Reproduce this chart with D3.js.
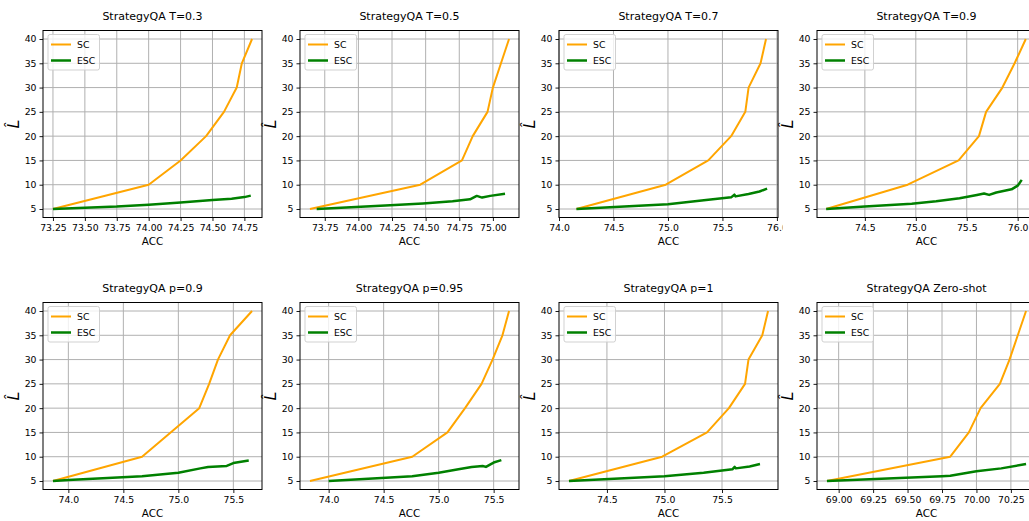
<!DOCTYPE html>
<html>
<head>
<meta charset="utf-8">
<script src="https://cdn.jsdelivr.net/npm/d3@7"></script>
<style>
  html, body { margin: 0; padding: 0; background: #fff; }
  svg { display: block; font-family: "DejaVu Sans", sans-serif; }
</style>
</head>
<body>
<svg id="chart" width="1029" height="521"></svg>
<script>
// ---------------- data ----------------
const titles = ["StrategyQA T=0.3", "StrategyQA T=0.5", "StrategyQA T=0.7", "StrategyQA T=0.9",
                "StrategyQA p=0.9", "StrategyQA p=0.95", "StrategyQA p=1", "StrategyQA Zero-shot"];
const seriesNames = ["SC", "ESC"];
const scL = [5, 10, 15, 20, 25, 30, 35, 40];

const scAcc_T03 = [73.25, 74.00, 74.25, 74.45, 74.59, 74.69, 74.73, 74.81];
const scAcc_T05 = [73.64, 74.46, 74.77, 74.85, 74.96, 75.00, 75.06, 75.12];
const scAcc_T07 = [74.16, 74.98, 75.37, 75.58, 75.71, 75.74, 75.85, 75.90];
const scAcc_T09 = [74.12, 74.92, 75.42, 75.62, 75.69, 75.85, 75.97, 76.08];
const scAcc_p09 = [73.86, 74.67, 74.93, 75.19, 75.28, 75.36, 75.47, 75.67];
const scAcc_p095 = [73.83, 74.76, 75.08, 75.24, 75.39, 75.49, 75.58, 75.64];
const scAcc_p1 = [74.17, 74.98, 75.37, 75.56, 75.70, 75.73, 75.85, 75.90];
const scAcc_zero = [68.915, 69.81, 69.945, 70.03, 70.17, 70.24, 70.30, 70.36];

const escAcc_T03 = [73.25, 73.75, 74.00, 74.25, 74.50, 74.65, 74.75, 74.80];
const escL_T03   = [5.0, 5.5, 5.9, 6.35, 6.85, 7.1, 7.45, 7.75];
const escAcc_T05 = [73.69, 74.20, 74.48, 74.70, 74.83, 74.88, 74.92, 74.98, 75.09];
const escL_T05   = [5.0, 5.7, 6.15, 6.6, 7.0, 7.7, 7.35, 7.7, 8.15];
const escAcc_T07 = [74.16, 74.60, 75.00, 75.35, 75.58, 75.61, 75.62, 75.74, 75.84, 75.91];
const escL_T07   = [5.0, 5.5, 6.0, 6.85, 7.4, 7.95, 7.6, 8.1, 8.6, 9.2];
const escAcc_T09 = [74.12, 74.50, 74.96, 75.20, 75.43, 75.60, 75.67, 75.72, 75.79, 75.94, 76.00, 76.04];
const escL_T09   = [5.0, 5.5, 6.1, 6.6, 7.2, 7.9, 8.2, 7.9, 8.4, 9.05, 9.8, 11.0];
const escAcc_p09 = [73.86, 74.00, 74.67, 75.00, 75.20, 75.27, 75.44, 75.50, 75.64];
const escL_p09   = [5.0, 5.2, 6.0, 6.7, 7.6, 7.9, 8.1, 8.7, 9.2];
const escAcc_p095 = [74.00, 74.76, 75.00, 75.18, 75.30, 75.40, 75.43, 75.50, 75.57];
const escL_p095   = [5.0, 6.0, 6.7, 7.4, 7.9, 8.1, 7.9, 8.8, 9.3];
const escAcc_p1 = [74.17, 75.00, 75.34, 75.59, 75.61, 75.62, 75.74, 75.83];
const escL_p1   = [5.0, 6.0, 6.7, 7.4, 7.9, 7.6, 8.0, 8.5];
const escAcc_zero = [68.915, 69.75, 69.81, 70.00, 70.18, 70.36];
const escL_zero   = [5.0, 6.0, 6.1, 7.0, 7.6, 8.5];

// x-axis ticks per panel
const xTicks_T03 = [73.25, 73.50, 73.75, 74.00, 74.25, 74.50, 74.75];
const xTicks_T05 = [73.75, 74.00, 74.25, 74.50, 74.75, 75.00];
const xTicks_T07 = [74.0, 74.5, 75.0, 75.5, 76.0];
const xTicks_T09 = [74.5, 75.0, 75.5, 76.0];
const xTicks_p09 = [74.0, 74.5, 75.0, 75.5];
const xTicks_p095 = [74.0, 74.5, 75.0, 75.5];
const xTicks_p1 = [74.5, 75.0, 75.5];
const xTicks_zero = [69.00, 69.25, 69.50, 69.75, 70.00, 70.25];
const xTickDecimals = [2, 2, 1, 1, 1, 1, 1, 2];
const yTicks = [5, 10, 15, 20, 25, 30, 35, 40];
// explicit x-limits where the panel does not use automatic 5% margins
const xLimits = [null, null, [74.0, 76.01], [74.03, 76.18], null, null, null, null];

const panels = [
  {sc: scAcc_T03, escX: escAcc_T03, escY: escL_T03, ticks: xTicks_T03},
  {sc: scAcc_T05, escX: escAcc_T05, escY: escL_T05, ticks: xTicks_T05},
  {sc: scAcc_T07, escX: escAcc_T07, escY: escL_T07, ticks: xTicks_T07},
  {sc: scAcc_T09, escX: escAcc_T09, escY: escL_T09, ticks: xTicks_T09},
  {sc: scAcc_p09, escX: escAcc_p09, escY: escL_p09, ticks: xTicks_p09},
  {sc: scAcc_p095, escX: escAcc_p095, escY: escL_p095, ticks: xTicks_p095},
  {sc: scAcc_p1, escX: escAcc_p1, escY: escL_p1, ticks: xTicks_p1},
  {sc: scAcc_zero, escX: escAcc_zero, escY: escL_zero, ticks: xTicks_zero}
];

// ---------------- layout / style ----------------
const PW = 219, PH = 187;
const lefts = [43, 300, 559, 817];
const tops = [30.5, 302.5];
const colors = {SC: "#FFA500", ESC: "#008000"};
const widths = {SC: 2, ESC: 2.5};

const svg = d3.select("#chart");
const defs = svg.append("defs");

function padded(ext) {
  const r = ext[1] - ext[0];
  return [ext[0] - 0.05 * r, ext[1] + 0.05 * r];
}

panels.forEach((p, i) => {
  const col = i % 4, row = Math.floor(i / 4);
  const x0 = lefts[col], y0 = tops[row];

  const allX = p.sc.concat(p.escX);
  const xDom = xLimits[i] || padded(d3.extent(allX));
  const allY = scL.concat(p.escY);
  const yDom = padded(d3.extent(allY));

  const x = d3.scaleLinear().domain(xDom).range([0, PW]);
  const y = d3.scaleLinear().domain(yDom).range([PH, 0]);

  const outerId = "outer" + i;
  defs.append("clipPath").attr("id", outerId)
    .append("rect").attr("x", -60).attr("y", -40).attr("width", PW + 60 + 4.5).attr("height", PH + 90);
  const clipId = "clip" + i;
  defs.append("clipPath").attr("id", clipId)
    .append("rect").attr("x", 0).attr("y", 0).attr("width", PW).attr("height", PH);

  const g = svg.append("g").attr("transform", `translate(${x0},${y0})`)
    .attr("clip-path", `url(#${outerId})`);

  // grid
  const grid = g.append("g");
  grid.selectAll("line.gx").data(p.ticks).enter().append("line")
    .attr("x1", d => x(d)).attr("x2", d => x(d)).attr("y1", 0).attr("y2", PH)
    .attr("stroke", "#b0b0b0").attr("stroke-width", 1);
  grid.selectAll("line.gy").data(yTicks).enter().append("line")
    .attr("y1", d => y(d)).attr("y2", d => y(d)).attr("x1", 0).attr("x2", PW)
    .attr("stroke", "#b0b0b0").attr("stroke-width", 1);

  // axes
  const fmt = d3.format("." + xTickDecimals[i] + "f");
  const xAxis = d3.axisBottom(x).tickValues(p.ticks).tickFormat(fmt).tickSizeInner(3.5).tickSizeOuter(0).tickPadding(3);
  const yAxis = d3.axisLeft(y).tickValues(yTicks).tickFormat(d3.format("d")).tickSizeInner(3.5).tickSizeOuter(0).tickPadding(3);
  const gx = g.append("g").attr("transform", `translate(0,${PH})`).call(xAxis);
  const gy = g.append("g").call(yAxis);
  [gx, gy].forEach(a => {
    a.select(".domain").remove();
    a.selectAll("text").attr("font-family", "DejaVu Sans").attr("font-size", 9.3).attr("fill", "#000");
    a.selectAll("line").attr("stroke", "#000").attr("stroke-width", 0.9);
  });

  // lines
  const plot = g.append("g").attr("clip-path", `url(#${clipId})`);
  const line = d3.line().x(d => x(d[0])).y(d => y(d[1]));
  const scData = p.sc.map((v, k) => [v, scL[k]]);
  const escData = p.escX.map((v, k) => [v, p.escY[k]]);
  plot.append("path").datum(scData).attr("d", line)
    .attr("fill", "none").attr("stroke", colors.SC).attr("stroke-width", widths.SC)
    .attr("stroke-linejoin", "round").attr("stroke-linecap", "butt");
  plot.append("path").datum(escData).attr("d", line)
    .attr("fill", "none").attr("stroke", colors.ESC).attr("stroke-width", widths.ESC)
    .attr("stroke-linejoin", "round").attr("stroke-linecap", "butt");

  // frame
  g.append("rect").attr("x", 0).attr("y", 0).attr("width", PW).attr("height", PH)
    .attr("fill", "none").attr("stroke", "#000").attr("stroke-width", 1);

  // legend
  const lg = g.append("g").attr("transform", "translate(5,4)");
  lg.append("rect").attr("x", 0).attr("y", 0).attr("width", 51.5).attr("height", 35.5)
    .attr("rx", 2).attr("fill", "#fff").attr("fill-opacity", 0.8)
    .attr("stroke", "#cccccc").attr("stroke-width", 0.9);
  seriesNames.forEach((s, k) => {
    const yy = 10 + k * 16;
    lg.append("line").attr("x1", 3).attr("x2", 23).attr("y1", yy).attr("y2", yy)
      .attr("stroke", colors[s]).attr("stroke-width", widths[s]);
    lg.append("text").attr("x", 29).attr("y", yy).attr("dy", "0.35em")
      .attr("font-size", 9.3).attr("fill", "#000").text(s);
  });

  // title
  g.append("text").attr("x", PW / 2).attr("y", -10.5).attr("text-anchor", "middle")
    .attr("font-size", 11).attr("fill", "#000").text(titles[i]);

  // x label
  g.append("text").attr("x", PW / 2).attr("y", PH + 27.5).attr("text-anchor", "middle")
    .attr("font-size", 10.4).attr("fill", "#000").text("ACC");

  // y label
  g.append("text").attr("transform", `translate(-24,${PH / 2}) rotate(-90)`)
    .attr("text-anchor", "middle").attr("font-size", 16).attr("font-style", "italic")
    .attr("font-family", "DejaVu Sans")
    .attr("fill", "#000").text("L\u0302");
});
</script>
</body>
</html>
